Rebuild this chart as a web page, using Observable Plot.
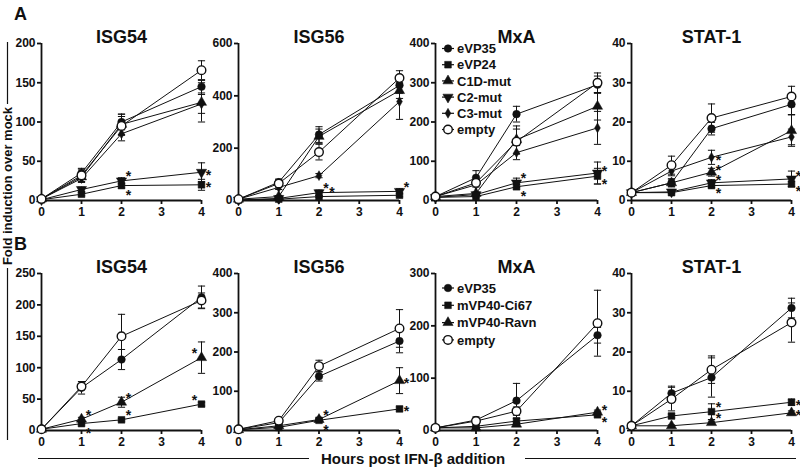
<!DOCTYPE html>
<html><head><meta charset="utf-8">
<script src="https://cdn.jsdelivr.net/npm/d3@7"></script>
<script src="https://cdn.jsdelivr.net/npm/@observablehq/plot@0.6"></script>
<style>
html,body{margin:0;padding:0;background:#fff;}
#fig{position:relative;width:800px;height:470px;overflow:hidden;background:#fff;}
</style></head><body><div id="fig"></div>
<script>
// ---------------- data ----------------
const times = [0, 1, 2, 4];
const xTicks = [0, 1, 2, 3, 4];
const genes = ["ISG54", "ISG56", "MxA", "STAT-1"];
const seriesA = ["eVP35", "eVP24", "C1D-mut", "C2-mut", "C3-mut", "empty"];
const seriesB = ["eVP35", "mVP40-Ci67", "mVP40-Ravn", "empty"];
const yTicksA = [[0, 50, 100, 150, 200], [0, 200, 400, 600], [0, 100, 200, 300, 400], [0, 10, 20, 30, 40]];
const yTicksB = [[0, 50, 100, 150, 200, 250], [0, 100, 200, 300, 400], [0, 100, 200, 300], [0, 10, 20, 30, 40]];

// Panel A means (order of seriesA), values at times 0,1,2,4
const A_ISG54 = [[2, 35, 100, 145], [1, 8, 19, 20], [2, 30, 97, 125], [1, 14, 25, 36], [2, 28, 85, 123], [2, 32, 95, 166]];
const A_ISG54_err = [[0.5, 6, 10, 8], [0.3, 2, 3, 7], [0.5, 6, 13, 25], [0.3, 3, 4, 12], [0.5, 5, 9, 12], [0.5, 8, 12, 12]];
const A_ISG56 = [[5, 70, 252, 440], [2, 5, 15, 20], [5, 15, 245, 420], [2, 8, 30, 35], [5, 50, 95, 378], [5, 65, 185, 468]];
const A_ISG56_err = [[1, 12, 30, 30], [0.5, 2, 4, 6], [1, 4, 28, 30], [0.5, 3, 10, 10], [1, 8, 8, 68], [1, 14, 30, 28]];
const A_MxA = [[10, 58, 220, 295], [8, 10, 35, 62], [10, 18, 155, 240], [8, 15, 45, 70], [10, 40, 122, 185], [10, 45, 150, 300]];
const A_MxA_err = [[2, 18, 20, 22], [1, 3, 6, 20], [2, 4, 35, 35], [1, 3, 12, 28], [2, 6, 18, 42], [2, 8, 32, 25]];
const A_STAT1 = [[2, 4.5, 18.3, 24.5], [2, 2, 3.8, 4.2], [2, 4.5, 7.2, 17.8], [2, 2.2, 4.5, 5.5], [2, 7.5, 11, 16.2], [2, 9, 21, 26.5]];
const A_STAT1_err = [[0.3, 1, 1.6, 2.6], [0.2, 0.3, 0.5, 0.6], [0.3, 1, 1, 4], [0.2, 0.3, 0.8, 2], [0.3, 1.2, 1.8, 2], [0.3, 2.3, 3.6, 2.6]];

// Panel B means (order of seriesB)
const B_ISG54 = [[2, 68, 113, 212], [2, 11, 17, 42], [2, 18, 45, 116], [2, 70, 150, 207]];
const B_ISG54_err = [[0.5, 10, 16, 18], [0.3, 2, 2, 3], [0.3, 3, 8, 25], [0.5, 5, 35, 12]];
const B_ISG56 = [[3, 20, 138, 228], [2, 8, 26, 55], [2, 12, 28, 127], [3, 25, 164, 260]];
const B_ISG56_err = [[1, 3, 12, 30], [0.5, 1, 3, 5], [0.5, 2, 3, 33], [1, 3, 15, 48]];
const B_MxA = [[5, 20, 57, 182], [5, 8, 18, 30], [5, 5, 12, 35], [5, 18, 37, 205]];
const B_MxA_err = [[1, 6, 33, 15], [1, 2, 5, 4], [1, 1, 3, 4], [1, 4, 8, 63]];
const B_STAT1 = [[1.2, 9.5, 13.5, 31.2], [1.2, 3.7, 4.8, 7.2], [1.2, 1.2, 2, 4.5], [1.2, 8, 15.5, 27.5]];
const B_STAT1_err = [[0.3, 1.8, 5, 2.5], [0.2, 0.5, 2, 0.8], [0.2, 0.2, 0.4, 0.5], [0.3, 3, 3.5, 5]];

// significance asterisks: [series, time, side]
const A_ISG54_stars = [["C2-mut", 2, "ur"], ["eVP24", 2, "dr"], ["C2-mut", 4, "r"], ["eVP24", 4, "r"]];
const A_ISG56_stars = [["C2-mut", 2, "ur"], ["eVP24", 2, "ur2"], ["C2-mut", 4, "ur"]];
const A_MxA_stars = [["C2-mut", 2, "ur"], ["eVP24", 2, "dr"], ["C2-mut", 4, "ru"], ["eVP24", 4, "rd"]];
const A_STAT1_stars = [["C3-mut", 2, "r"], ["C1D-mut", 2, "ru"], ["C2-mut", 2, "ru"], ["eVP24", 2, "rd"], ["C2-mut", 4, "ru"], ["eVP24", 4, "rd"]];
const B_ISG54_stars = [["mVP40-Ravn", 1, "ur"], ["mVP40-Ci67", 1, "dr"], ["mVP40-Ravn", 2, "ur"], ["mVP40-Ci67", 2, "ur"], ["mVP40-Ravn", 4, "ul"], ["mVP40-Ci67", 4, "ul"]];
const B_ISG56_stars = [["mVP40-Ravn", 2, "ur"], ["mVP40-Ci67", 2, "dr"], ["mVP40-Ravn", 4, "r"], ["mVP40-Ci67", 4, "r"]];
const B_MxA_stars = [["mVP40-Ravn", 4, "ru"], ["mVP40-Ci67", 4, "rd"]];
const B_STAT1_stars = [["mVP40-Ci67", 2, "ur"], ["mVP40-Ravn", 2, "ur"], ["mVP40-Ci67", 4, "r"], ["mVP40-Ravn", 4, "r"]];

// ---------------- styles ----------------
const FONT = '"Liberation Sans", Arial, Helvetica, sans-serif';
const INK = "#111";
const triDown = {draw(ctx, size) {
  const y = -Math.sqrt(size / (3 * Math.sqrt(3))), s3 = Math.sqrt(3);
  ctx.moveTo(0, -2 * y); ctx.lineTo(-s3 * y, y); ctx.lineTo(s3 * y, y); ctx.closePath();
}};
const capSym = {draw(ctx, size) { const w = Math.sqrt(size / Math.PI); ctx.moveTo(-w, 0); ctx.lineTo(w, 0); }};
const symStyle = {
  "eVP35": {symbol: d3.symbolCircle, fill: INK, r: 3.8},
  "eVP24": {symbol: d3.symbolSquare, fill: INK, r: 3.8},
  "mVP40-Ci67": {symbol: d3.symbolSquare, fill: INK, r: 3.8},
  "C1D-mut": {symbol: d3.symbolTriangle, fill: INK, r: 3.8},
  "mVP40-Ravn": {symbol: d3.symbolTriangle, fill: INK, r: 3.8},
  "C2-mut": {symbol: triDown, fill: INK, r: 3.8},
  "C3-mut": {symbol: d3.symbolDiamond, fill: INK, r: 3},
  "empty": {symbol: d3.symbolCircle, fill: "white", r: 4.3}
};
const starOffset = {ur: [7, -4], ur2: [13, -4], dr: [7, 10], r: [7, 3], ru: [7, -2], rd: [7, 8], ul: [-7, -4]};

const fig = document.getElementById("fig");
const colX0 = [41, 238, 435, 631];
const colW = [160, 161, 162, 160];
const rowTop = [42.5, 272.5];
const frameH = 157;

function panel(row, col, series, means, errs, stars, yTicks) {
  const rows = [];
  series.forEach((s, i) => means[i].forEach((v, j) => rows.push({s, t: times[j], v, e: errs[i][j]})));
  const find = (s, t) => rows.find(d => d.s === s && d.t === t);
  const starRows = stars.map(([s, t, side]) => ({...find(s, t), side}));
  const ml = 40, mr = 20, mt = 40, mb = 26;
  const marks = [
    Plot.ruleY([0], {stroke: INK, strokeWidth: 1.8}),
    Plot.ruleX([0], {stroke: INK, strokeWidth: 1.8}),
    Plot.axisX({ticks: xTicks, tickFormat: d3.format("d"), tickSize: 4, tickPadding: 3, strokeWidth: 1.8, label: null}),
    Plot.axisY({ticks: yTicks, tickFormat: d3.format("d"), tickSize: 4, tickPadding: 2, strokeWidth: 1.8, label: null}),
    Plot.ruleX(rows, {x: "t", y1: d => Math.max(0, d.v - d.e), y2: d => d.v + d.e, stroke: INK, strokeWidth: 1}),
    Plot.dot(rows, {x: "t", y: d => d.v + d.e, symbol: capSym, r: 3.6, stroke: INK, strokeWidth: 1, fill: "none"}),
    Plot.dot(rows.filter(d => d.v - d.e > 0.5), {x: "t", y: d => d.v - d.e, symbol: capSym, r: 3.6, stroke: INK, strokeWidth: 1, fill: "none"})
  ];
  for (const s of series) {
    const sd = rows.filter(d => d.s === s);
    marks.push(Plot.line(sd, {x: "t", y: "v", stroke: INK, strokeWidth: 1}));
  }
  for (const s of series) {
    const st = symStyle[s];
    const sd = rows.filter(d => d.s === s);
    marks.push(Plot.dot(sd, {x: "t", y: "v", symbol: st.symbol, r: st.r, fill: st.fill,
      stroke: INK, strokeWidth: st.fill === "white" ? 1.4 : 0.5}));
  }
  for (const side of Object.keys(starOffset)) {
    const sr = starRows.filter(d => d.side === side);
    if (!sr.length) continue;
    const [dx, dy] = starOffset[side];
    marks.push(Plot.text(sr, {x: "t", y: "v", text: () => "*", dx, dy, fontSize: 14, fill: INK}));
  }
  marks.push(Plot.text([genes[col]], {frameAnchor: "top", text: d => d, dy: -13, fontSize: 18, fontWeight: "bold", fill: INK}));
  const plot = Plot.plot({
    width: ml + colW[col] + mr, height: mt + frameH + mb,
    marginLeft: ml, marginRight: mr, marginTop: mt, marginBottom: mb,
    x: {domain: [0, 4]},
    y: {domain: [0, yTicks[yTicks.length - 1]]},
    style: {background: "transparent", overflow: "visible", fontFamily: FONT, fontSize: "12px", fontWeight: "bold", color: INK},
    marks
  });
  plot.style.position = "absolute";
  plot.style.left = (colX0[col] - ml) + "px";
  plot.style.top = (rowTop[row] - mt) + "px";
  plot.style.maxWidth = "none";
  fig.appendChild(plot);
}

panel(0, 0, seriesA, A_ISG54, A_ISG54_err, A_ISG54_stars, yTicksA[0]);
panel(0, 1, seriesA, A_ISG56, A_ISG56_err, A_ISG56_stars, yTicksA[1]);
panel(0, 2, seriesA, A_MxA, A_MxA_err, A_MxA_stars, yTicksA[2]);
panel(0, 3, seriesA, A_STAT1, A_STAT1_err, A_STAT1_stars, yTicksA[3]);
panel(1, 0, seriesB, B_ISG54, B_ISG54_err, B_ISG54_stars, yTicksB[0]);
panel(1, 1, seriesB, B_ISG56, B_ISG56_err, B_ISG56_stars, yTicksB[1]);
panel(1, 2, seriesB, B_MxA, B_MxA_err, B_MxA_stars, yTicksB[2]);
panel(1, 3, seriesB, B_STAT1, B_STAT1_err, B_STAT1_stars, yTicksB[3]);

// ---------------- annotation layer: panel letters, shared axis titles, legends ----------------
const svg = d3.select(fig).append("svg")
  .attr("width", 800).attr("height", 470)
  .style("position", "absolute").style("left", 0).style("top", 0)
  .attr("font-family", FONT).attr("fill", INK);
svg.append("text").attr("x", 14).attr("y", 20).attr("font-size", 18).attr("font-weight", "bold").text("A");
svg.append("text").attr("x", 14).attr("y", 250).attr("font-size", 18).attr("font-weight", "bold").text("B");
// y title
const yMid = 186;
svg.append("text").attr("transform", `translate(12,${yMid}) rotate(-90)`).attr("text-anchor", "middle")
  .attr("font-size", 13).attr("font-weight", "bold").text("Fold induction over mock");
svg.append("line").attr("x1", 7.5).attr("x2", 7.5).attr("y1", 42).attr("y2", yMid - 82).attr("stroke", INK).attr("stroke-width", 1.2);
svg.append("line").attr("x1", 7.5).attr("x2", 7.5).attr("y1", yMid + 82).attr("y2", 440).attr("stroke", INK).attr("stroke-width", 1.2);
// x title
svg.append("text").attr("x", 413).attr("y", 464).attr("text-anchor", "middle")
  .attr("font-size", 15).attr("font-weight", "bold").text("Hours post IFN-β addition");
svg.append("line").attr("x1", 38).attr("x2", 309).attr("y1", 458.5).attr("y2", 458.5).attr("stroke", INK).attr("stroke-width", 1.2);
svg.append("line").attr("x1", 525).attr("x2", 796).attr("y1", 458.5).attr("y2", 458.5).attr("stroke", INK).attr("stroke-width", 1.2);

function legend(series, y0, step) {
  series.forEach((s, i) => {
    const y = y0 + i * step, st = symStyle[s];
    const g = svg.append("g");
    g.append("line").attr("x1", 442).attr("x2", 454).attr("y1", y).attr("y2", y).attr("stroke", INK).attr("stroke-width", 1.2);
    g.append("path").attr("transform", `translate(448,${y})`)
      .attr("d", d3.symbol(st.symbol, st.r * st.r * Math.PI)())
      .attr("fill", st.fill).attr("stroke", INK).attr("stroke-width", st.fill === "white" ? 1.4 : 0.5);
    g.append("text").attr("x", 457).attr("y", y + 4.6).attr("font-size", 13).attr("font-weight", "bold").text(s);
  });
}
legend(seriesA, 48.5, 16.2);
legend(seriesB, 288, 17.3);
</script></body></html>
